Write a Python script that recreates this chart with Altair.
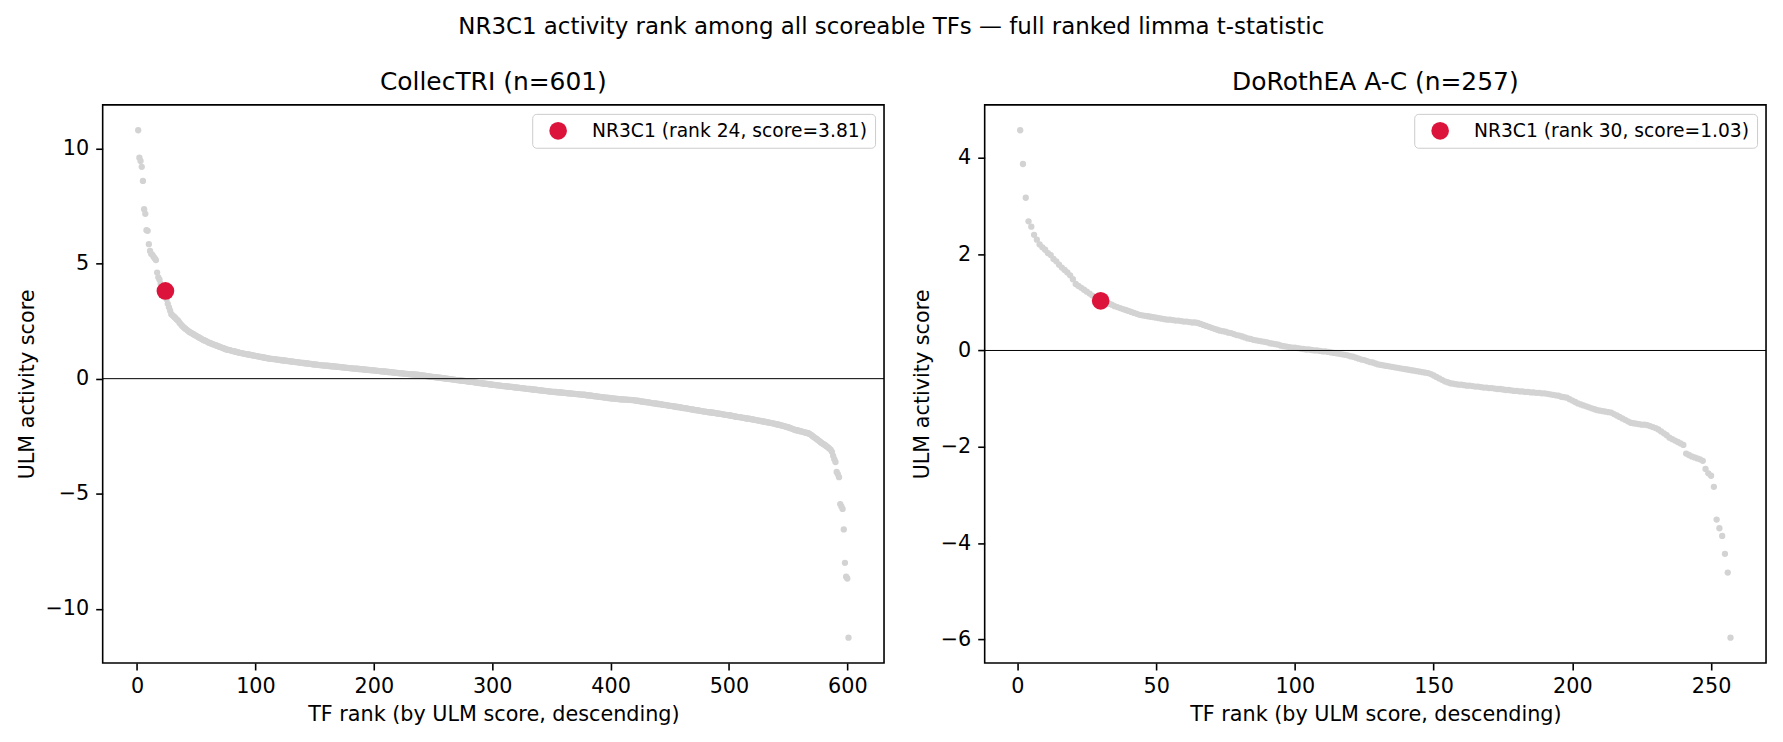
import pandas as pd
import altair as alt

# ULM activity scores, ranked descending
collectri_scores = [
    10.79, 9.60, 9.46, 9.20, 8.59, 7.36, 7.16, 6.45, 6.42, 5.84,
    5.55, 5.42, 5.38, 5.30, 5.22, 5.15, 4.61, 4.40, 4.30, 4.12,
    4.02, 3.95, 3.88, 3.81, 3.45, 3.25, 3.10, 2.95, 2.80, 2.75,
    2.70, 2.66, 2.60, 2.55, 2.50, 2.42, 2.36, 2.30, 2.25, 2.20,
    2.16, 2.12, 2.08, 2.04, 2.01, 1.98, 1.95, 1.92, 1.89, 1.86,
    1.83, 1.80, 1.77, 1.74, 1.71, 1.68, 1.66, 1.64, 1.61, 1.58,
    1.56, 1.54, 1.52, 1.50, 1.48, 1.46, 1.44, 1.42, 1.40, 1.38,
    1.36, 1.34, 1.32, 1.30, 1.28, 1.26, 1.25, 1.24, 1.23, 1.21,
    1.20, 1.19, 1.17, 1.16, 1.15, 1.13, 1.12, 1.11, 1.10, 1.09,
    1.08, 1.07, 1.06, 1.05, 1.04, 1.03, 1.02, 1.01, 1.00, 0.99,
    0.98, 0.97, 0.96, 0.95, 0.94, 0.93, 0.92, 0.91, 0.90, 0.89,
    0.88, 0.87, 0.86, 0.86, 0.85, 0.85, 0.84, 0.83, 0.83, 0.82,
    0.81, 0.80, 0.80, 0.79, 0.78, 0.78, 0.77, 0.76, 0.76, 0.75,
    0.74, 0.74, 0.73, 0.72, 0.72, 0.71, 0.70, 0.70, 0.69, 0.68,
    0.68, 0.67, 0.66, 0.66, 0.65, 0.64, 0.64, 0.63, 0.62, 0.62,
    0.61, 0.61, 0.60, 0.59, 0.59, 0.58, 0.58, 0.57, 0.57, 0.56,
    0.56, 0.55, 0.55, 0.54, 0.54, 0.53, 0.53, 0.52, 0.52, 0.51,
    0.51, 0.50, 0.50, 0.49, 0.48, 0.48, 0.47, 0.47, 0.46, 0.46,
    0.45, 0.45, 0.44, 0.44, 0.43, 0.43, 0.42, 0.42, 0.41, 0.41,
    0.40, 0.40, 0.39, 0.39, 0.38, 0.38, 0.37, 0.37, 0.36, 0.36,
    0.35, 0.35, 0.34, 0.34, 0.33, 0.32, 0.32, 0.31, 0.31, 0.30,
    0.30, 0.29, 0.29, 0.28, 0.28, 0.27, 0.26, 0.26, 0.25, 0.25,
    0.24, 0.24, 0.23, 0.23, 0.22, 0.22, 0.21, 0.21, 0.20, 0.20,
    0.19, 0.19, 0.18, 0.18, 0.17, 0.17, 0.17, 0.16, 0.15, 0.15,
    0.14, 0.13, 0.13, 0.12, 0.11, 0.10, 0.10, 0.09, 0.08, 0.08,
    0.07, 0.06, 0.06, 0.05, 0.04, 0.04, 0.03, 0.02, 0.02, 0.01,
    0.00, 0.00, -0.01, -0.02, -0.02, -0.03, -0.04, -0.04, -0.05, -0.06,
    -0.06, -0.07, -0.08, -0.08, -0.09, -0.10, -0.10, -0.11, -0.12, -0.12,
    -0.13, -0.14, -0.14, -0.15, -0.16, -0.17, -0.17, -0.18, -0.19, -0.19,
    -0.20, -0.21, -0.21, -0.22, -0.23, -0.23, -0.24, -0.25, -0.25, -0.26,
    -0.27, -0.27, -0.28, -0.29, -0.29, -0.30, -0.30, -0.31, -0.32, -0.32,
    -0.33, -0.33, -0.34, -0.35, -0.35, -0.36, -0.36, -0.37, -0.38, -0.38,
    -0.39, -0.39, -0.40, -0.41, -0.41, -0.42, -0.42, -0.43, -0.44, -0.44,
    -0.45, -0.45, -0.46, -0.47, -0.47, -0.48, -0.48, -0.49, -0.50, -0.50,
    -0.51, -0.51, -0.52, -0.53, -0.53, -0.54, -0.55, -0.55, -0.56, -0.56,
    -0.57, -0.57, -0.58, -0.58, -0.59, -0.59, -0.60, -0.60, -0.61, -0.61,
    -0.62, -0.62, -0.63, -0.63, -0.64, -0.64, -0.65, -0.65, -0.66, -0.66,
    -0.67, -0.67, -0.68, -0.68, -0.69, -0.69, -0.70, -0.70, -0.71, -0.72,
    -0.72, -0.73, -0.74, -0.74, -0.75, -0.76, -0.76, -0.77, -0.78, -0.78,
    -0.79, -0.80, -0.80, -0.81, -0.82, -0.82, -0.83, -0.84, -0.84, -0.85,
    -0.86, -0.86, -0.87, -0.87, -0.88, -0.88, -0.89, -0.89, -0.90, -0.90,
    -0.90, -0.91, -0.91, -0.91, -0.92, -0.92, -0.92, -0.93, -0.93, -0.94,
    -0.95, -0.96, -0.96, -0.97, -0.98, -0.99, -1.00, -1.00, -1.01, -1.02,
    -1.03, -1.03, -1.04, -1.05, -1.06, -1.07, -1.07, -1.08, -1.09, -1.10,
    -1.10, -1.11, -1.12, -1.13, -1.14, -1.14, -1.15, -1.16, -1.17, -1.18,
    -1.18, -1.19, -1.20, -1.21, -1.22, -1.23, -1.23, -1.24, -1.25, -1.26,
    -1.27, -1.28, -1.28, -1.29, -1.30, -1.31, -1.32, -1.33, -1.34, -1.35,
    -1.36, -1.37, -1.37, -1.38, -1.39, -1.40, -1.41, -1.42, -1.43, -1.43,
    -1.44, -1.45, -1.46, -1.46, -1.47, -1.48, -1.48, -1.49, -1.50, -1.51,
    -1.52, -1.52, -1.53, -1.54, -1.55, -1.56, -1.57, -1.57, -1.58, -1.59,
    -1.60, -1.61, -1.62, -1.63, -1.64, -1.65, -1.66, -1.67, -1.67, -1.68,
    -1.69, -1.70, -1.71, -1.72, -1.73, -1.74, -1.74, -1.75, -1.76, -1.77,
    -1.78, -1.79, -1.80, -1.81, -1.82, -1.83, -1.84, -1.85, -1.86, -1.87,
    -1.88, -1.89, -1.90, -1.91, -1.92, -1.93, -1.94, -1.95, -1.96, -1.98,
    -1.99, -2.00, -2.01, -2.03, -2.04, -2.05, -2.07, -2.08, -2.10, -2.11,
    -2.13, -2.15, -2.17, -2.19, -2.21, -2.23, -2.24, -2.25, -2.26, -2.28,
    -2.29, -2.30, -2.32, -2.33, -2.35, -2.36, -2.37, -2.40, -2.43, -2.47,
    -2.51, -2.55, -2.58, -2.62, -2.66, -2.70, -2.74, -2.78, -2.82, -2.85,
    -2.88, -2.92, -2.96, -3.00, -3.05, -3.09, -3.18, -3.35, -3.50, -3.62,
    -4.05, -4.15, -4.28, -5.45, -5.55, -5.66, -6.55, -8.00, -8.60, -8.68,
    -11.25,
]

dorothea_scores = [
    4.57, 3.87, 3.17, 2.68, 2.57, 2.40, 2.30, 2.20, 2.14, 2.09,
    2.02, 1.98, 1.90, 1.85, 1.78, 1.72, 1.67, 1.62, 1.56, 1.48,
    1.38, 1.34, 1.30, 1.26, 1.22, 1.18, 1.14, 1.10, 1.07, 1.03,
    1.01, 0.99, 0.97, 0.95, 0.92, 0.90, 0.88, 0.86, 0.84, 0.82,
    0.80, 0.78, 0.76, 0.74, 0.73, 0.72, 0.71, 0.70, 0.69, 0.68,
    0.67, 0.66, 0.65, 0.64, 0.64, 0.63, 0.62, 0.62, 0.61, 0.60,
    0.60, 0.59, 0.58, 0.58, 0.57, 0.55, 0.53, 0.51, 0.49, 0.47,
    0.45, 0.43, 0.41, 0.40, 0.39, 0.37, 0.36, 0.34, 0.32, 0.31,
    0.29, 0.27, 0.25, 0.24, 0.22, 0.21, 0.20, 0.19, 0.18, 0.17,
    0.15, 0.14, 0.13, 0.12, 0.10, 0.09, 0.08, 0.07, 0.06, 0.06,
    0.05, 0.04, 0.03, 0.02, 0.02, 0.01, 0.00, 0.00, -0.01, -0.02,
    -0.02, -0.03, -0.04, -0.05, -0.06, -0.07, -0.08, -0.09, -0.10, -0.12,
    -0.13, -0.15, -0.17, -0.19, -0.20, -0.22, -0.24, -0.25, -0.27, -0.29,
    -0.30, -0.31, -0.32, -0.33, -0.34, -0.35, -0.36, -0.37, -0.38, -0.39,
    -0.40, -0.41, -0.42, -0.43, -0.44, -0.45, -0.46, -0.47, -0.49, -0.52,
    -0.55, -0.58, -0.61, -0.64, -0.66, -0.68, -0.69, -0.70, -0.71, -0.71,
    -0.72, -0.73, -0.73, -0.74, -0.75, -0.75, -0.76, -0.77, -0.77, -0.78,
    -0.78, -0.79, -0.80, -0.80, -0.81, -0.82, -0.82, -0.83, -0.84, -0.84,
    -0.85, -0.85, -0.86, -0.86, -0.87, -0.87, -0.88, -0.88, -0.89, -0.89,
    -0.90, -0.91, -0.92, -0.93, -0.94, -0.96, -0.97, -0.98, -1.01, -1.04,
    -1.07, -1.10, -1.12, -1.14, -1.16, -1.18, -1.20, -1.22, -1.24, -1.25,
    -1.26, -1.27, -1.28, -1.29, -1.32, -1.35, -1.38, -1.41, -1.44, -1.47,
    -1.50, -1.51, -1.52, -1.53, -1.54, -1.54, -1.55, -1.57, -1.59, -1.61,
    -1.64, -1.68, -1.72, -1.76, -1.81, -1.84, -1.87, -1.90, -1.93, -1.96,
    -2.14, -2.17, -2.20, -2.22, -2.24, -2.26, -2.29, -2.46, -2.55, -2.60,
    -2.83, -3.51, -3.69, -3.85, -4.22, -4.61, -5.96,
]

panel_titles = ["CollecTRI (n=601)", "DoRothEA A-C (n=257)"]
nr3c1_ranks = [24, 30]

collectri_xticks = [0, 100, 200, 300, 400, 500, 600]
collectri_yticks = [-10, -5, 0, 5, 10]
dorothea_xticks = [0, 50, 100, 150, 200, 250]
dorothea_yticks = [-6, -4, -2, 0, 2, 4]

FONT = "DejaVu Sans"
GREY = "#d3d3d3"
RED = "#dc143c"


def make_panel(scores, title, hit_rank, xticks, yticks):
    n = len(scores)
    df = pd.DataFrame({"rank": list(range(1, n + 1)), "score": scores})

    # matplotlib-style 5% margins
    xpad = (n - 1) * 0.05
    ypad = (max(scores) - min(scores)) * 0.05
    xdom = [1 - xpad, n + xpad]
    ydom = [min(scores) - ypad, max(scores) + ypad]

    x = alt.X("rank:Q", scale=alt.Scale(domain=xdom, nice=False, zero=False),
              axis=alt.Axis(values=xticks, format="d", labelFlush=False,
                            title="TF rank (by ULM score, descending)"))
    y = alt.Y("score:Q", scale=alt.Scale(domain=ydom, nice=False, zero=False),
              axis=alt.Axis(values=yticks, format="d", title="ULM activity score"))

    points = alt.Chart(df).mark_circle(size=40, color=GREY, opacity=1).encode(x=x, y=y)

    zero = alt.Chart(pd.DataFrame({"score": [0.0]})).mark_rule(
        color="black", strokeWidth=1
    ).encode(y=alt.Y("score:Q"))

    hit = df[df["rank"] == hit_rank].copy()
    hit_score = hit["score"].iloc[0]
    label = f"NR3C1 (rank {hit_rank}, score={hit_score:.2f})"
    hit["label"] = label

    hit_pt = alt.Chart(hit).mark_circle(size=314, opacity=1).encode(
        x=x, y=y,
        color=alt.Color("label:N", scale=alt.Scale(domain=[label], range=[RED]),
                        legend=alt.Legend(title=None, orient="top-right", offset=9,
                                          fillColor="white", strokeColor="#cccccc",
                                          cornerRadius=4, padding=7,
                                          symbolType="circle", symbolSize=314,
                                          symbolOffset=9, labelOffset=24,
                                          labelFontSize=18.75, labelFont=FONT,
                                          labelColor="black", labelLimit=0))
    )

    return alt.layer(points, zero, hit_pt).properties(
        width=784, height=560,
        title=alt.TitleParams(title, fontSize=25, offset=10, font=FONT,
                              fontWeight="normal", color="black"),
    )


left = make_panel(collectri_scores, panel_titles[0], nr3c1_ranks[0],
                  collectri_xticks, collectri_yticks)
right = make_panel(dorothea_scores, panel_titles[1], nr3c1_ranks[1],
                   dorothea_xticks, dorothea_yticks)

chart = alt.hconcat(left, right, spacing=24).resolve_scale(
    color="independent", x="independent", y="independent"
).resolve_legend(color="independent").properties(
    title=alt.TitleParams(
        "NR3C1 activity rank among all scoreable TFs \u2014 full ranked limma t-statistic",
        fontSize=23, anchor="middle", offset=30, font=FONT,
        fontWeight="normal", color="black"),
    padding={"left": 7, "right": 7, "top": 7, "bottom": 7},
    background="white",
).configure(
    font=FONT
).configure_view(
    stroke="black", strokeWidth=1.6
).configure_axis(
    grid=False, domain=False,
    tickColor="black", tickSize=7, tickWidth=1.6,
    labelFont=FONT, labelFontSize=20.8, labelColor="black", labelPadding=7,
    titleFont=FONT, titleFontSize=20.8, titleFontWeight="normal",
    titleColor="black", titlePadding=8,
)

chart.save("out.html", embed_options={"renderer": "svg", "actions": False})
